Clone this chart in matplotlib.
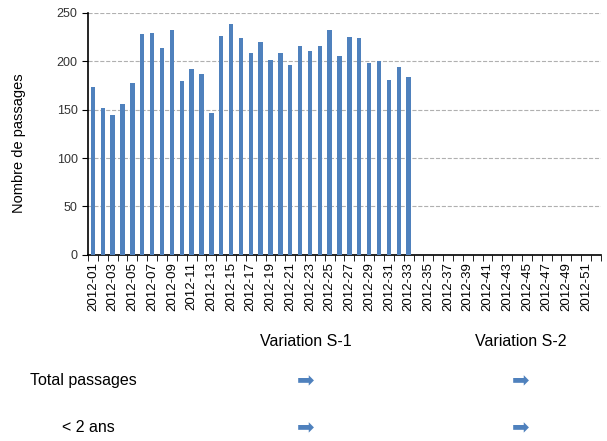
import matplotlib
matplotlib.use("Agg")
import matplotlib.pyplot as plt

plt.rcParams['font.family'] = ['Liberation Sans', 'DejaVu Sans']

# weeks 2012-01 .. 2012-52, data only up to week 33
weeks = [f"2012-{i:02d}" for i in range(1, 53)]
passages = [173, 152, 144, 156, 177, 228, 229, 214, 232, 180,
            192, 187, 147, 226, 238, 224, 208, 220, 201, 208,
            196, 216, 211, 216, 232, 205, 225, 224, 198, 200,
            181, 194, 184]

row_labels = ["Total passages", "< 2 ans"]
col_labels = ["Variation S-1", "Variation S-2"]

bar_color = '#4F81BD'

fig = plt.figure(figsize=(6.07, 4.41), dpi=100)
ax = fig.add_axes([0.145, 0.422, 0.845, 0.549])

x = list(range(len(passages)))
ax.bar(x, passages, width=0.45, color=bar_color, zorder=3)

ax.set_xlim(-0.5, len(weeks) - 0.5)
ax.set_ylim(0, 250)
ax.set_yticks(range(0, 251, 50))
ax.tick_params(axis='y', labelsize=9, length=4, direction='out', colors='#333333')
ax.tick_params(axis='y', color='black')

# category labels every other week, ticks at category boundaries
ax.set_xticks(range(0, len(weeks), 2))
ax.set_xticklabels(weeks[::2], rotation=90, fontsize=9.5)
ax.set_xticks([i - 0.5 for i in range(len(weeks) + 1)], minor=True)
ax.tick_params(axis='x', which='major', length=0, pad=5)
ax.tick_params(axis='x', which='minor', length=4, direction='out')

ax.grid(axis='y', linestyle='--', color='#b0b0b0', linewidth=0.8, zorder=0)
for s in ['top', 'right']:
    ax.spines[s].set_visible(False)
ax.spines['left'].set_linewidth(1.2)
ax.spines['bottom'].set_linewidth(1.2)

fig.text(19 / 607, 1 - 143 / 441, "Nombre de passages", rotation=90,
         fontsize=10.5, ha='center', va='center')

# variation table below the chart
col_x = [306, 521]
for cx, lab in zip(col_x, col_labels):
    fig.text(cx / 607, 1 - 342 / 441, lab, fontsize=11.5, ha='center', va='center')

row_y = [381, 428]
row_x = [30, 62]
for ry, rx, lab in zip(row_y, row_x, row_labels):
    fig.text(rx / 607, 1 - ry / 441, lab, fontsize=11.5, ha='left', va='center')
    for cx in col_x:
        fig.text(cx / 607, 1 - ry / 441, "\u27A1", fontsize=15, color=bar_color,
                 ha='center', va='center', family=['DejaVu Sans'])

fig.savefig("out.png", dpi=100)
